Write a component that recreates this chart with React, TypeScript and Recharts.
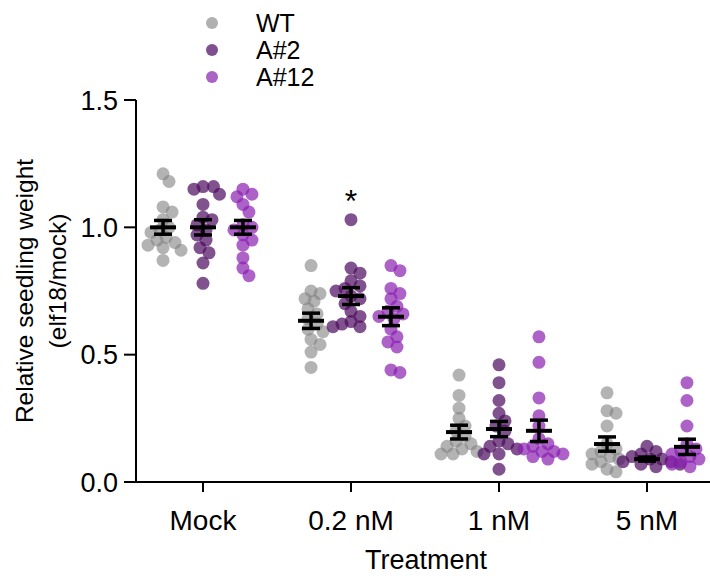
import { ScatterChart, Scatter, XAxis, YAxis, ErrorBar, ReferenceDot } from 'recharts';

const categories = ['Mock', '0.2 nM', '1 nM', '5 nM'];
const genotypes = ['WT', 'A#2', 'A#12'];
const yTicks = [0, 0.5, 1.0, 1.5];

// individual seedlings, per treatment
const wtValues = [
  [1.21, 1.18, 1.08, 1.06, 1.03, 1.0, 0.99, 0.98, 0.96, 0.95, 0.94, 0.93, 0.92, 0.91, 0.87],
  [0.85, 0.75, 0.74, 0.72, 0.71, 0.68, 0.66, 0.64, 0.62, 0.6, 0.59, 0.56, 0.54, 0.51, 0.45],
  [0.42, 0.34, 0.29, 0.25, 0.22, 0.2, 0.18, 0.16, 0.15, 0.14, 0.13, 0.12, 0.11, 0.11],
  [0.35, 0.28, 0.27, 0.22, 0.15, 0.13, 0.12, 0.11, 0.1, 0.09, 0.08, 0.07, 0.05, 0.04],
];
const a2Values = [
  [1.16, 1.16, 1.15, 1.13, 1.09, 1.04, 1.03, 1.01, 0.99, 0.97, 0.95, 0.92, 0.9, 0.86, 0.78],
  [1.03, 0.84, 0.82, 0.79, 0.77, 0.76, 0.75, 0.73, 0.72, 0.7, 0.67, 0.65, 0.63, 0.62, 0.61, 0.61],
  [0.46, 0.39, 0.32, 0.27, 0.24, 0.22, 0.2, 0.16, 0.15, 0.14, 0.13, 0.11, 0.11, 0.05],
  [0.14, 0.12, 0.11, 0.1, 0.09, 0.09, 0.08, 0.08, 0.07, 0.07, 0.06],
];
const a12Values = [
  [1.15, 1.13, 1.12, 1.09, 1.06, 1.01, 1.0, 0.99, 0.97, 0.95, 0.93, 0.88, 0.84, 0.81],
  [0.85, 0.83, 0.76, 0.74, 0.72, 0.69, 0.67, 0.66, 0.65, 0.64, 0.6, 0.57, 0.55, 0.53, 0.44, 0.43],
  [0.57, 0.47, 0.33, 0.26, 0.22, 0.17, 0.15, 0.14, 0.13, 0.12, 0.12, 0.11, 0.1, 0.09],
  [0.39, 0.32, 0.22, 0.15, 0.13, 0.12, 0.11, 0.1, 0.09, 0.08, 0.07, 0.06],
];

// mean and SEM
const wtMeans = [1.0, 0.633, 0.196, 0.149];
const wtSem = [0.027, 0.03, 0.027, 0.028];
const a2Means = [1.0, 0.73, 0.208, 0.09];
const a2Sem = [0.03, 0.033, 0.03, 0.008];
const a12Means = [1.0, 0.649, 0.201, 0.138];
const a12Sem = [0.027, 0.035, 0.042, 0.03];

const FONT = '"Liberation Sans", Arial, sans-serif';
const colors = ['#808080', '#4b0a5e', '#8a1fb0'];
const legendColors = ['#b0b0b0', '#7f4f8f', '#a863c4'];
const groupOffset = [-0.27, 0, 0.27];
const X_PX = 148; // px per category
const Y_PX = 254.7; // px per unit
const R = 6.5;

// simple beeswarm so overlapping dots are spread sideways
function swarm(values: number[], cat: number, g: number) {
  const placed: { dx: number; py: number }[] = [];
  return [...values]
    .sort((a, b) => b - a)
    .map((v) => {
      const py = v * Y_PX;
      let dx = 0;
      for (let step = 0; step < 200; step++) {
        const cand = step === 0 ? 0 : (step % 2 ? 1 : -1) * Math.ceil(step / 2) * 1.5;
        const ok = placed.every((p) => Math.hypot(p.dx - cand, p.py - py) >= R * 1.4);
        if (ok) {
          dx = cand;
          break;
        }
      }
      placed.push({ dx, py });
      return { x: cat + groupOffset[g] + dx / X_PX, y: v };
    });
}

const allValues = [wtValues, a2Values, a12Values];
const allMeans = [wtMeans, a2Means, a12Means];
const allSem = [wtSem, a2Sem, a12Sem];

const dots = allValues.map((vals, g) => vals.flatMap((v, c) => swarm(v, c, g)));
const means = allMeans.map((m, g) => m.map((y, c) => ({ x: c + groupOffset[g], y, sem: allSem[g][c] })));

const Dot = (color: string, opacity: number) => (props: any) =>
  <circle cx={props.cx} cy={props.cy} r={R} fill={color} fillOpacity={opacity} />;

const MeanLine = (props: any) => {
  const { cx, cy } = props;
  return <line x1={cx - 13} x2={cx + 13} y1={cy} y2={cy} stroke="#000" strokeWidth={4} />;
};

const LegendBox = () => (
  <div style={{ position: 'absolute', left: 0, top: 0, fontFamily: FONT, fontSize: 25, color: '#000' }}>
    {genotypes.map((name, i) => (
      <div
        key={name}
        style={{ position: 'absolute', top: 23 + i * 27 - 13.5, left: 206, height: 27, display: 'flex', alignItems: 'center', whiteSpace: 'nowrap' }}
      >
        <span style={{ width: 12, height: 12, borderRadius: 6, background: legendColors[i], display: 'inline-block', marginRight: 38 }} />
        <span style={{ lineHeight: '27px' }}>{name}</span>
      </div>
    ))}
  </div>
);

const YLabel = () => (
  <g fontFamily={FONT} fontSize={24.5} fill="#000">
    <text x={33} y={291} textAnchor="middle" transform="rotate(-90 33 291)">
      Relative seedling weight
    </text>
    <text x={66} y={281} textAnchor="middle" transform="rotate(-90 66 281)">
      (elf18/mock)
    </text>
  </g>
);

const XLabel = () => (
  <text x={426} y={569} textAnchor="middle" fontFamily={FONT} fontSize={27} fill="#000">
    Treatment
  </text>
);

export default function App() {
  return (
    <div style={{ position: 'absolute', left: 0, top: 0, width: 710, height: 576, background: '#fff' }}>
      <ScatterChart width={710} height={576} margin={{ top: 100, right: 0, bottom: 0, left: 0 }}>
        <XAxis
          type="number"
          dataKey="x"
          domain={[-0.4527, 3.4257]}
          ticks={[0, 1, 2, 3]}
          tickFormatter={(i: number) => categories[i]}
          height={94}
          tickSize={10}
          tickMargin={18}
          stroke="#000"
          strokeWidth={2}
          tick={{ fill: '#000', fontSize: 28, fontFamily: FONT }}
          label={{ content: XLabel }}
        />
        <YAxis
          type="number"
          dataKey="y"
          domain={[0, 1.5]}
          ticks={yTicks}
          tickFormatter={(v: number) => v.toFixed(1)}
          width={136}
          tickSize={12}
          tickMargin={6}
          stroke="#000"
          strokeWidth={2}
          tick={{ fill: '#000', fontSize: 27, fontFamily: FONT }}
          label={{ content: YLabel }}
        />
        {dots.map((d, g) => (
          <Scatter
            key={genotypes[g]}
            name={genotypes[g]}
            data={d}
            fill={colors[g]}
            shape={Dot(colors[g], g === 0 ? 0.6 : 0.7)}
            zIndex={500}
            isAnimationActive={false}
          />
        ))}
        {means.map((m, g) => (
          <Scatter
            key={'mean-' + genotypes[g]}
            data={m}
            shape={MeanLine}
            legendType="none"
            zIndex={900}
            isAnimationActive={false}
          >
            <ErrorBar dataKey="sem" direction="y" width={9} stroke="#000" strokeWidth={3.5} zIndex={950} />
          </Scatter>
        ))}
        <ReferenceDot
          x={1}
          y={1.127}
          r={0}
          shape={(p: any) => (
            <text x={p.cx} y={p.cy + 17} textAnchor="middle" fontFamily={FONT} fontSize={32} fill="#000">
              *
            </text>
          )}
        />
      </ScatterChart>
      <LegendBox />
    </div>
  );
}
